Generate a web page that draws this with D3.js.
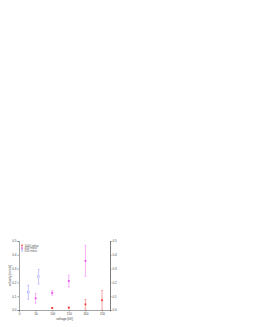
<!DOCTYPE html>
<html>
<head>
<meta charset="utf-8">
<script src="https://cdn.jsdelivr.net/npm/d3@7"></script>
<style>
  body { margin: 0; background: #fff; }
  svg { display: block; font-family: "Liberation Sans", Arial, sans-serif; }
</style>
</head>
<body>
<div class="chart"></div>
<script>
var xTicks = [0, 50, 100, 150, 200, 250];
var yTicks = [0, 0.1, 0.2, 0.3, 0.4, 0.5];

var series = ['1000 mbar', '400 mbar', '833 mbar'];
var colors = ['#f03c3c', '#f050f0', '#a0a0ff'];
var errColors = ['#f49090', '#f4a0f4', '#b8b8ff'];

var volt1000 = [100, 150, 200, 250];
var vel1000 = [0.015, 0.017, 0.041, 0.071];
var err1000 = [0.004, 0.004, 0.035, 0.07];

var volt400 = [50, 100, 150, 200];
var vel400 = [0.085, 0.124, 0.21, 0.356];
var err400 = [0.035, 0.016, 0.043, 0.112];

var volt833 = [28, 59];
var vel833 = [0.129, 0.241];
var err833 = [0.051, 0.053];

var groups = [
  { x: volt1000, y: vel1000, e: err1000 },
  { x: volt400, y: vel400, e: err400 },
  { x: volt833, y: vel833, e: err833 }
];

var W = 253, H = 327;
var margin = { top: 241, right: 143, bottom: 17, left: 19 };
var width = W - margin.left - margin.right;
var height = H - margin.top - margin.bottom;

var x = d3.scaleLinear().domain([0, 274]).range([0, width]);
var y = d3.scaleLinear().domain([0, 0.5]).range([height, 0]);

var svg = d3.select('.chart').append('svg')
  .attr('width', W)
  .attr('height', H);

var g = svg.append('g')
  .attr('transform', 'translate(' + margin.left + ',' + margin.top + ')');

// axes
var xAxis = d3.axisBottom(x).tickValues(xTicks).tickSize(1.5).tickPadding(1).tickFormat(d3.format('d'));
var yAxis = d3.axisLeft(y).tickValues(yTicks).tickSize(1.5).tickPadding(1).tickFormat(d3.format('.1f'));
var yAxisR = d3.axisRight(y).tickValues(yTicks).tickSize(1.5).tickPadding(1).tickFormat(d3.format('.1f'));
var yMinorR = d3.axisRight(y).tickValues(d3.range(0.05, 0.5, 0.1)).tickSize(1).tickFormat('');

g.append('g').attr('class', 'axis')
  .attr('transform', 'translate(0,' + height + ')')
  .call(xAxis);
g.append('g').attr('class', 'axis').call(yAxis);
g.append('g').attr('class', 'axis')
  .attr('transform', 'translate(' + width + ',0)')
  .call(yAxisR);
g.append('g').attr('class', 'axis')
  .attr('transform', 'translate(' + width + ',0)')
  .call(yMinorR);

g.selectAll('.axis path, .axis line').attr('stroke', '#666').attr('stroke-width', 0.6);
g.selectAll('.axis text').attr('font-size', 3).attr('fill', '#444');

// error bars and markers
groups.forEach(function(s, k) {
  var pts = s.x.map(function(v, i) { return { x: v, y: s.y[i], e: s.e[i] }; });
  var eg = g.append('g').attr('stroke', errColors[k]).attr('stroke-width', 0.8);
  eg.selectAll('line.v').data(pts).enter().append('line')
    .attr('x1', function(d) { return x(d.x); })
    .attr('x2', function(d) { return x(d.x); })
    .attr('y1', function(d) { return y(Math.max(0, d.y - d.e)); })
    .attr('y2', function(d) { return y(d.y + d.e); });
  eg.selectAll('line.t').data(pts).enter().append('line')
    .attr('x1', function(d) { return x(d.x) - 1; })
    .attr('x2', function(d) { return x(d.x) + 1; })
    .attr('y1', function(d) { return y(d.y + d.e); })
    .attr('y2', function(d) { return y(d.y + d.e); });
  eg.selectAll('line.b').data(pts).enter().append('line')
    .attr('x1', function(d) { return x(d.x) - 1; })
    .attr('x2', function(d) { return x(d.x) + 1; })
    .attr('y1', function(d) { return y(Math.max(0, d.y - d.e)); })
    .attr('y2', function(d) { return y(Math.max(0, d.y - d.e)); });

  g.selectAll('rect.m' + k).data(pts).enter().append('rect')
    .attr('x', function(d) { return x(d.x) - 0.9; })
    .attr('y', function(d) { return y(d.y) - 0.9; })
    .attr('width', 1.8)
    .attr('height', 1.8)
    .attr('fill', k === 2 ? '#fff' : colors[k])
    .attr('stroke', colors[k])
    .attr('stroke-width', k === 2 ? 0.5 : 0);
});

// legend
var leg = g.append('g').attr('transform', 'translate(3,4.5)');
series.forEach(function(name, k) {
  leg.append('rect')
    .attr('x', -0.8).attr('y', k * 2.5 - 0.8)
    .attr('width', 1.6).attr('height', 1.6)
    .attr('fill', k === 2 ? '#fff' : colors[k])
    .attr('stroke', colors[k])
    .attr('stroke-width', k === 2 ? 0.4 : 0);
  leg.append('text')
    .attr('x', 2.5).attr('y', k * 2.5 + 1)
    .attr('font-size', 3).attr('fill', '#666')
    .text(name);
});

// axis titles
g.append('text')
  .attr('x', width / 2).attr('y', height + 9.5)
  .attr('text-anchor', 'middle')
  .attr('font-size', 3.2).attr('fill', '#444')
  .text('voltage [kV]');

g.append('text')
  .attr('transform', 'translate(-8.5,' + (height / 2) + ') rotate(-90)')
  .attr('text-anchor', 'middle')
  .attr('font-size', 3.2).attr('fill', '#444')
  .text('velocity [mm/s]');
</script>
</body>
</html>
